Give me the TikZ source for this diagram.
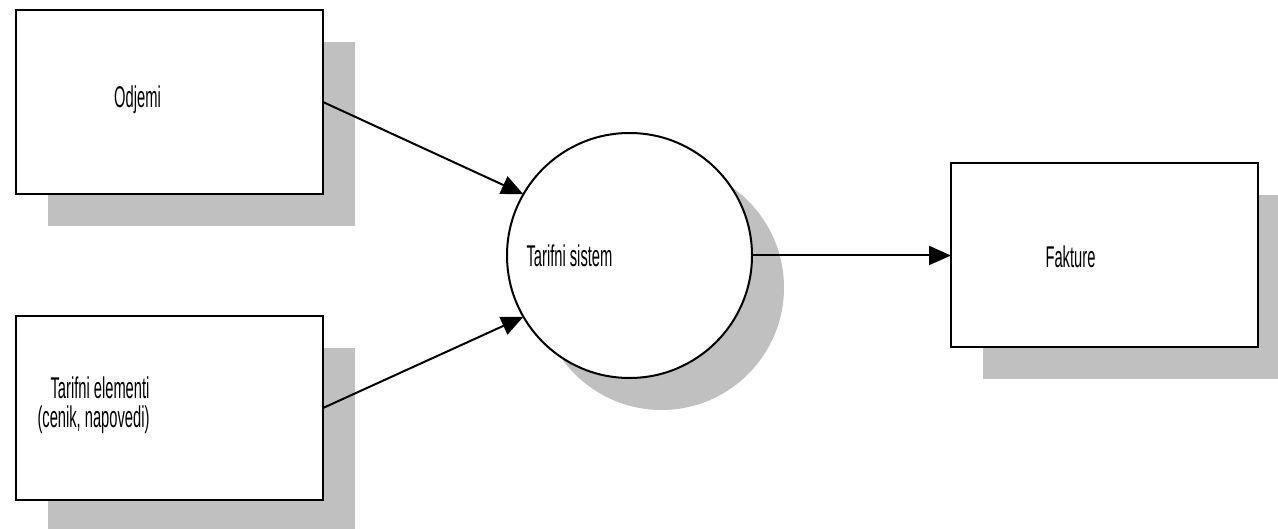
\documentclass[tikz,border=0pt]{standalone}
\usepackage{fontspec}
\setmainfont{Liberation Sans}[FakeStretch=0.49]
\usetikzlibrary{arrows.meta, positioning, shadows}
\definecolor{shadowgray}{RGB}{192,192,192}
\tikzset{dfd font/.style={font=\fontsize{30pt}{29pt}\selectfont}}
\tikzset{dfd shadow/.style={drop shadow={shadow xshift=32pt,shadow yshift=-32pt,fill=shadowgray,opacity=1}}}
\tikzset{entity/.style={draw,line width=2pt,fill=white,minimum width=307pt,minimum height=184pt,inner sep=0pt,outer sep=0pt,dfd shadow}}
\tikzset{process/.style={draw,circle,line width=2pt,fill=white,minimum size=245pt,inner sep=0pt,outer sep=0pt,dfd shadow}}

\begin{document}
\begin{tikzpicture}[x=1pt,y=1pt,>={Triangle[length=22pt,width=19pt]},line width=2pt]
    \useasboundingbox (0,0) rectangle (1278,-529);

    \node[entity, label={[dfd font,xshift=-32pt,yshift=2pt]center:Odjemi}](odjemi) at (169.5,-102) {};
    \node[entity, below=122pt of odjemi, label={[dfd font,align=right,xshift=-76pt,yshift=3pt]center:{Tarifni elementi\\(cenik, napovedi)}}](tarif) {};
    \node[process, label={[dfd font,xshift=-60pt]center:Tarifni sistem}](sistem) at (629.5,-255.5) {};
    \node[entity, right=199pt of sistem, label={[dfd font,xshift=-34pt,yshift=-1pt]center:Fakture}](fakture) {};

    \draw[->] (odjemi.east) -- (sistem.150);
    \draw[->] (tarif.east) -- (sistem.210);
    \draw[->] (sistem) -- (fakture);
\end{tikzpicture}
\end{document}
